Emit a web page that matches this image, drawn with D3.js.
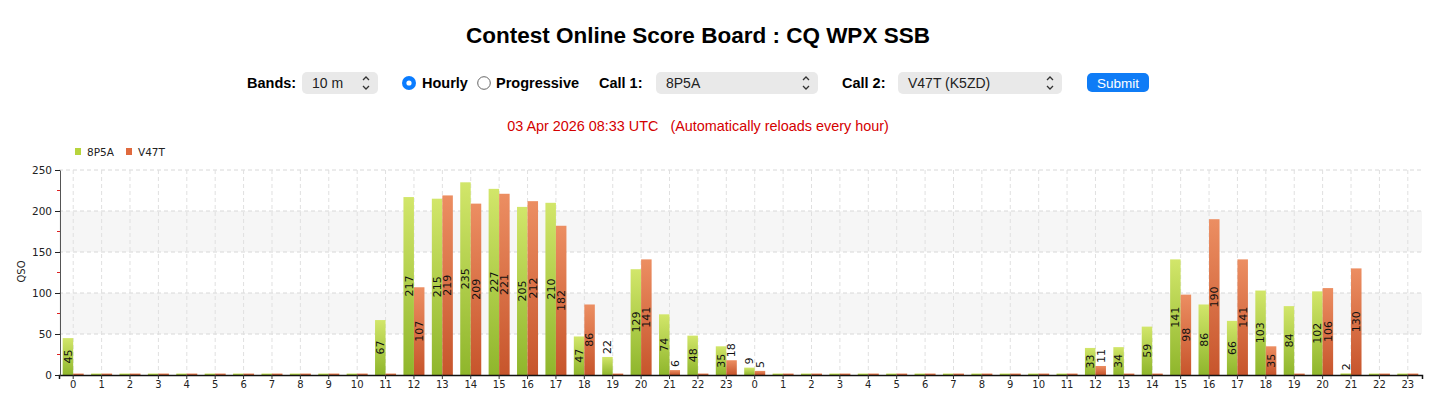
<!DOCTYPE html>
<html>
<head>
<meta charset="utf-8">
<script src="https://cdn.jsdelivr.net/npm/d3@7"></script>
<style>
  body { margin: 0; background: #fff; }
  svg { display: block; }
  .hdr { font-family: "Liberation Sans", Arial, Helvetica, sans-serif; }
  .chart-text { font-family: "DejaVu Sans", Verdana, sans-serif; }
</style>
</head>
<body>
<div id="board"></div>
<script>
// hour labels across the two contest days
const hourLabels = [
  0, 1, 2, 3, 4, 5, 6, 7, 8, 9, 10, 11, 12, 13, 14, 15, 16, 17, 18, 19, 20, 21, 22, 23,
  0, 1, 2, 3, 4, 5, 6, 7, 8, 9, 10, 11, 12, 13, 14, 15, 16, 17, 18, 19, 20, 21, 22, 23
];
const callNames = ['8P5A', 'V47T'];
const call1Qso = [
  45, 0, 0, 0, 0, 0, 0, 0, 0, 0, 0, 67, 217, 215, 235, 227, 205, 210, 47, 22, 129, 74, 48, 35,
  9, 0, 0, 0, 0, 0, 0, 0, 0, 0, 0, 0, 33, 34, 59, 141, 86, 66, 103, 84, 102, 2, 0, 0
];
const call2Qso = [
  0, 0, 0, 0, 0, 0, 0, 0, 0, 0, 0, 0, 107, 219, 209, 221, 212, 182, 86, 0, 141, 6, 0, 18,
  5, 0, 0, 0, 0, 0, 0, 0, 0, 0, 0, 0, 11, 0, 0, 98, 190, 141, 35, 0, 106, 130, 0, 0
];
const yTicks = [0, 50, 100, 150, 200, 250];
const yMinorTicks = [25, 75, 125, 175, 225];

class ScoreBoard {

  constructor(_config) {
    this.config = {
      parentElement: _config.parentElement,
      containerWidth: 1456,
      containerHeight: 410,
      margin: {top: 170, right: 34, bottom: 35, left: 59},
      colors: ['#b7d43c', '#e06a3e']
    };
    this.initVis();
  }

  initVis() {
    let vis = this;
    vis.width = vis.config.containerWidth - vis.config.margin.left - vis.config.margin.right;
    vis.height = vis.config.containerHeight - vis.config.margin.top - vis.config.margin.bottom;

    vis.svg = d3.select(vis.config.parentElement).append('svg')
        .attr('width', vis.config.containerWidth)
        .attr('height', vis.config.containerHeight);

    vis.drawHeader();

    vis.chart = vis.svg.append('g')
        .attr('class', 'chart-text')
        .attr('transform', `translate(${vis.config.margin.left},${vis.config.margin.top})`);

    vis.xScale = d3.scaleBand()
        .domain(d3.range(hourLabels.length))
        .range([0, vis.width])
        .paddingInner(0.26)
        .paddingOuter(0.13);
    vis.xSub = d3.scaleBand()
        .domain([0, 1])
        .range([0, vis.xScale.bandwidth()]);
    vis.yScale = d3.scaleLinear()
        .domain([0, 250])
        .range([vis.height, 0]);

    // bar gradients
    const defs = vis.svg.append('defs');
    [['grad-0', '#d2e66a', '#8fb62c'], ['grad-1', '#ec8e62', '#c7552c']].forEach(g => {
      const lg = defs.append('linearGradient').attr('id', g[0])
          .attr('x1', 0).attr('y1', 0).attr('x2', 0).attr('y2', 1);
      lg.append('stop').attr('offset', '0%').attr('stop-color', g[1]);
      lg.append('stop').attr('offset', '100%').attr('stop-color', g[2]);
    });

    vis.renderVis();
  }

  drawHeader() {
    let vis = this;
    const hdr = vis.svg.append('g').attr('class', 'hdr');

    hdr.append('text')
        .attr('x', 698).attr('y', 43)
        .attr('text-anchor', 'middle')
        .attr('font-size', '22.5px').attr('font-weight', 'bold')
        .text('Contest Online Score Board : CQ WPX SSB');

    const bold = (x, t) => hdr.append('text')
        .attr('x', x).attr('y', 88)
        .attr('font-size', '14.5px').attr('font-weight', 'bold')
        .text(t);

    const select = (x, w, t) => {
      hdr.append('rect')
          .attr('x', x).attr('y', 72).attr('width', w).attr('height', 22)
          .attr('rx', 5).attr('fill', '#e9e9e9');
      hdr.append('text')
          .attr('x', x + 10).attr('y', 88)
          .attr('font-size', '14px').attr('fill', '#222')
          .text(t);
      const cx = x + w - 12;
      hdr.append('path')
          .attr('d', `M${cx - 3},${80} L${cx},${77} L${cx + 3},${80} M${cx - 3},${86} L${cx},${89} L${cx + 3},${86}`)
          .attr('fill', 'none').attr('stroke', '#333').attr('stroke-width', 1.3);
    };

    bold(247, 'Bands:');
    select(302, 76, '10 m');

    hdr.append('circle').attr('cx', 409).attr('cy', 83).attr('r', 7).attr('fill', '#0a7cff');
    hdr.append('circle').attr('cx', 409).attr('cy', 83).attr('r', 2.6).attr('fill', '#fff');
    bold(422, 'Hourly');
    hdr.append('circle').attr('cx', 484).attr('cy', 83).attr('r', 6.3)
        .attr('fill', '#fff').attr('stroke', '#666').attr('stroke-width', 1);
    bold(496, 'Progressive');

    bold(599, 'Call 1:');
    select(656, 162, '8P5A');
    bold(842, 'Call 2:');
    select(898, 164, 'V47T (K5ZD)');

    hdr.append('rect')
        .attr('x', 1087).attr('y', 73).attr('width', 62).attr('height', 19)
        .attr('rx', 5).attr('fill', '#0f7cf6');
    hdr.append('text')
        .attr('x', 1118).attr('y', 87.5)
        .attr('text-anchor', 'middle')
        .attr('font-size', '13.5px').attr('fill', '#fff')
        .text('Submit');

    hdr.append('text')
        .attr('x', 698).attr('y', 131)
        .attr('text-anchor', 'middle')
        .attr('font-size', '14.4px').attr('fill', '#d40000')
        .style('white-space', 'pre')
        .text('03 Apr 2026 08:33 UTC   (Automatically reloads every hour)');
  }

  renderVis() {
    let vis = this;
    const series = [call1Qso, call2Qso];

    // alternating background bands
    vis.chart.selectAll('.band-bg')
        .data([[50, 100], [150, 200]])
      .join('rect')
        .attr('class', 'band-bg')
        .attr('x', 0)
        .attr('width', vis.width)
        .attr('y', d => vis.yScale(d[1]))
        .attr('height', d => vis.yScale(d[0]) - vis.yScale(d[1]))
        .attr('fill', '#f6f6f6');

    // dashed grid
    vis.chart.selectAll('.hgrid')
        .data(yTicks.slice(1))
      .join('line')
        .attr('class', 'hgrid')
        .attr('x1', 0).attr('x2', vis.width)
        .attr('y1', d => vis.yScale(d)).attr('y2', d => vis.yScale(d))
        .attr('stroke', '#d8d8d8').attr('stroke-dasharray', '4,3');
    vis.chart.selectAll('.vgrid')
        .data(d3.range(hourLabels.length))
      .join('line')
        .attr('class', 'vgrid')
        .attr('x1', d => vis.xScale(d) + vis.xScale.bandwidth() / 2)
        .attr('x2', d => vis.xScale(d) + vis.xScale.bandwidth() / 2)
        .attr('y1', vis.yScale(250)).attr('y2', vis.height)
        .attr('stroke', '#e0e0e0').attr('stroke-dasharray', '4,3');

    // bars
    const barData = [];
    hourLabels.forEach((h, i) => {
      series.forEach((s, k) => barData.push({i: i, k: k, value: s[i]}));
    });
    const barX = d => vis.xScale(d.i) + vis.xSub(d.k);
    const barW = vis.xSub.bandwidth();

    vis.chart.selectAll('.bar')
        .data(barData)
      .join('rect')
        .attr('class', 'bar')
        .attr('x', barX)
        .attr('width', barW)
        .attr('y', d => Math.min(vis.yScale(d.value), vis.height - 1.5))
        .attr('height', d => Math.max(vis.height - vis.yScale(d.value), 1.5))
        .attr('fill', d => `url(#grad-${d.k})`);

    // value labels, rotated
    const labelData = barData.filter(d => d.value > 0);
    vis.chart.selectAll('.bar-label')
        .data(labelData)
      .join('text')
        .attr('class', 'bar-label')
        .attr('font-size', '11px')
        .attr('fill', '#111')
        .attr('dy', '0.35em')
        .attr('transform', d => {
          const h = vis.height - vis.yScale(d.value);
          const textLen = String(d.value).length * 7;
          const cx = barX(d) + barW / 2;
          const cy = h > textLen + 6 ? vis.yScale(d.value) + h / 2
                                     : vis.yScale(d.value) - textLen / 2 - 3;
          return `translate(${cx},${cy}) rotate(-90)`;
        })
        .attr('text-anchor', 'middle')
        .text(d => d.value);

    // axes
    const xAxis = d3.axisBottom(vis.xScale)
        .tickSize(4)
        .tickFormat(i => hourLabels[i]);
    const xg = vis.chart.append('g')
        .attr('transform', `translate(0,${vis.height})`)
        .call(xAxis);
    xg.select('.domain').attr('stroke', '#111').attr('stroke-width', 1.5);
    xg.selectAll('.tick line').attr('stroke', '#333');
    xg.selectAll('.tick text')
        .attr('font-size', '10px').attr('fill', '#222')
        .attr('font-family', '"DejaVu Sans", Verdana, sans-serif')
        .attr('dy', '0.55em');

    const yAxis = d3.axisLeft(vis.yScale)
        .tickValues(yTicks)
        .tickSize(5)
        .tickSizeOuter(0);
    const yg = vis.chart.append('g')
        .attr('transform', 'translate(1,0)')
        .call(yAxis);
    yg.select('.domain').attr('stroke', '#555');
    yg.selectAll('.tick line').attr('stroke', '#222');
    yg.selectAll('.tick text')
        .attr('font-size', '10.5px').attr('fill', '#222')
        .attr('font-family', '"DejaVu Sans", Verdana, sans-serif');

    vis.chart.selectAll('.minor-tick')
        .data(yMinorTicks)
      .join('line')
        .attr('class', 'minor-tick')
        .attr('x1', -2).attr('x2', 1)
        .attr('y1', d => vis.yScale(d)).attr('y2', d => vis.yScale(d))
        .attr('stroke', '#d22');

    vis.chart.append('text')
        .attr('transform', `translate(-34,${vis.height / 2 - 1}) rotate(-90)`)
        .attr('text-anchor', 'middle')
        .attr('font-size', '10px').attr('fill', '#222')
        .text('QSO');

    // legend
    const legend = vis.svg.append('g')
        .attr('class', 'chart-text')
        .attr('transform', 'translate(75,148)');
    const items = legend.selectAll('.legend-item')
        .data(callNames)
      .join('g')
        .attr('class', 'legend-item')
        .attr('transform', (d, i) => `translate(${i * 51},0)`);
    items.append('rect')
        .attr('width', 6).attr('height', 7)
        .attr('fill', (d, i) => vis.config.colors[i]);
    items.append('text')
        .attr('x', 12).attr('y', 7.5)
        .attr('font-size', '10.5px').attr('fill', '#222')
        .text(d => d);
  }
}

new ScoreBoard({parentElement: '#board'});
</script>
</body>
</html>
